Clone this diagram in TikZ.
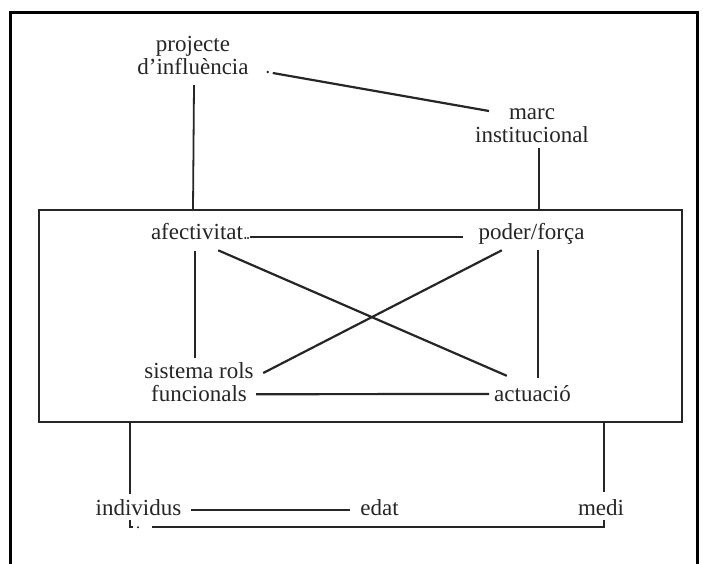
\documentclass[tikz,border=0pt]{standalone}
\usepackage{fontspec}
\setmainfont{Liberation Serif}
\usetikzlibrary{calc}
\definecolor{ink}{HTML}{262626}
\newcommand{\tS}{\rule{0pt}{16pt}}
\newcommand{\bS}{\rule[-5pt]{0pt}{5pt}}
\tikzset{
  lbl/.style={font=\fontsize{23}{23}\selectfont, inner sep=0pt, align=center, text=ink},
  conn/.style={draw=ink, line width=2.2pt},
  thin conn/.style={draw=ink, line width=1.8pt},
  frame/.style={draw=black, line width=3pt},
  boxstyle/.style={draw=ink, line width=1.6pt, inner sep=0pt, minimum width=643pt, minimum height=212pt}
}
\begin{document}
\begin{tikzpicture}[x=1pt,y=-1pt]
\useasboundingbox (0,0) rectangle (703,564);
\fill[white] (0,0) rectangle (703,564);
% outer frame
\draw[frame] (10,564) -- (10,13) -- (697,13) -- (697,564);

% nodes
\node[lbl] (proj)  at (193,58)     {\tS projecte\\d’influència\bS};
\node[lbl] (marc)  at (532,126)    {\tS marc\\institucional\bS};
\node[boxstyle] (box) at (360.5,316) {};
\node[lbl] (afect) at (197,233.5)  {\tS afectivitat\bS};
\node[lbl] (poder) at (531.5,233.5){\tS poder/força\bS};
\node[lbl] (sist)  at (199,384)    {\tS sistema rols\\funcionals\bS};
\node[lbl] (actu)  at (532.5,395.5){\tS actuació\bS};
\node[lbl] (indiv) at (138.5,509.5){\tS individus\bS};
\node[lbl] (edat)  at (379.5,509.5){\tS edat\bS};
\node[lbl] (medi)  at (601,509.5)  {\tS medi\bS};

% top part
\draw[thin conn] ([shift={(1,5)}]proj.south) -- (proj.south |- box.north);
\coordinate (mv0) at ([shift={(7,0)}]marc.south);
\draw[thin conn] (mv0) -- (mv0 |- box.north);
\draw[conn] ([shift={(24,15)}]proj.east) -- ([shift={(14,-15)}]marc.west);
\fill[ink] ([shift={(19,14)}]proj.east) circle (1.4);

% inside the box
\draw[conn] ([shift={(7,3.5)}]afect.east) -- ([shift={(-15,3.5)}]poder.west);
\fill[ink] ([shift={(2,4.5)}]afect.east) circle (1.1);
\fill[ink] ([shift={(4.8,4.5)}]afect.east) circle (1.1);
\draw[thin conn] ([shift={(-2,7)}]afect.south) -- ([shift={(-4,-4)}]sist.north);
\draw[thin conn] ([shift={(6.5,6)}]poder.south) -- ([shift={(5.5,-7)}]actu.north);
\draw[conn] ([shift={(-25,6)}]afect.south east) -- ([shift={(12.8,-9)}]actu.north west);
\draw[conn] ([shift={(23.5,6)}]poder.south west) -- ([shift={(9.4,-11)}]sist.east);
\draw[conn] ([shift={(2.4,-12)}]sist.south east) -- ([shift={(-5,-1.5)}]actu.west);

% below the box
\coordinate (iv) at ([shift={(-8.5,-5)}]indiv.north);
\draw[thin conn] (iv |- box.south) -- (iv);
\coordinate (mv) at ([shift={(3,-7)}]medi.north);
\draw[thin conn] (mv |- box.south) -- (mv);
\draw[conn] ([shift={(9,0.5)}]indiv.east) -- ([shift={(-10,0.5)}]edat.west);
\coordinate (ib) at ([shift={(-8.5,0)}]indiv.south);
\coordinate (mb) at ([shift={(3,0)}]medi.south);
\draw[thin conn] (ib) -- ++(0,7) -- ++(3,0);
\fill[ink] ([shift={(8,7)}]ib) circle (1.2);
\draw[conn] ([shift={(22,7)}]ib) -| (mb);
\end{tikzpicture}
\end{document}
